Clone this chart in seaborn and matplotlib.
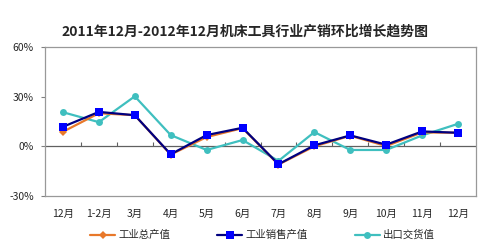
import matplotlib
matplotlib.use("Agg")
import matplotlib.pyplot as plt
import seaborn as sns
import pandas as pd

categories = ["12月", "1-2月", "3月", "4月", "5月", "6月", "7月", "8月", "9月", "10月", "11月", "12月 "]
tick_labels = ["12月", "1-2月", "3月", "4月", "5月", "6月", "7月", "8月", "9月", "10月", "11月", "12月"]
total_output = [8.8, 20.0, 18.8, -5.0, 5.6, 11.0, -11.0, 0.0, 6.4, 0.2, 8.4, 8.2]
sales_output = [11.8, 20.8, 18.8, -4.8, 6.8, 11.2, -10.8, 0.6, 6.6, 1.0, 9.0, 8.2]
export_value = [20.6, 14.6, 30.2, 6.8, -2.2, 3.8, -8.8, 8.6, -2.2, -2.2, 6.6, 13.6]
series_names = ["工业总产值", "工业销售产值", "出口交货值"]
y_ticks = [-30, 0, 30, 60]

sns.set_theme(style="white")
plt.rcParams["font.family"] = ["Noto Sans CJK SC", "DejaVu Sans"]

df = pd.DataFrame({"cat": categories, "total": total_output,
                   "sales": sales_output, "export": export_value})

fig = plt.figure(figsize=(5, 2.5), dpi=100)
ax = fig.add_axes([0.09, 0.216, 0.862, 0.596])

sns.lineplot(data=df, x="cat", y="export", ax=ax, color="#3FBFBF", lw=1.6,
             marker="o", markersize=5, markeredgewidth=0, label=series_names[2], sort=False)
sns.lineplot(data=df, x="cat", y="total", ax=ax, color="#E8782A", lw=1.6,
             marker="D", markersize=4, markeredgewidth=0, label=series_names[0], sort=False)
sns.lineplot(data=df, x="cat", y="sales", ax=ax, color="#000080", lw=1.6,
             marker="s", markersize=6, markerfacecolor="#0000FF", markeredgewidth=0,
             label=series_names[1], sort=False)

ax.set_xlim(-0.5, 11.5)
ax.set_ylim(-30, 60)
ax.set_yticks(y_ticks)
ax.set_yticklabels([f"{v}%" for v in y_ticks], fontsize=7.5)
ax.set_xticks(range(len(categories)))
ax.set_xticklabels(tick_labels, fontsize=7.5)
ax.tick_params(axis="x", length=0, pad=9)
ax.tick_params(axis="y", length=3, width=0.8, color="#808080", left=True, pad=5)
ax.set_xlabel("")
ax.set_ylabel("")

ax.axhline(0, color="#606060", lw=0.9, zorder=1)
ax.vlines([i + 0.5 for i in range(len(categories) - 1)], 0, 2.4, color="#606060", lw=0.8, zorder=1)

for s in ax.spines.values():
    s.set_color("#999999")
    s.set_linewidth(0.9)

fig.suptitle("2011年12月-2012年12月机床工具行业产销环比增长趋势图", x=0.49, y=0.90,
             fontsize=10, fontweight="bold")

h, l = ax.get_legend_handles_labels()
order = [1, 2, 0]
ax.legend([h[i] for i in order], [l[i] for i in order], loc="center",
          bbox_to_anchor=(0.525, 0.06), bbox_transform=fig.transFigure, ncol=3,
          frameon=False, fontsize=7.5, handlelength=2.4, columnspacing=4.5,
          handletextpad=0.3)

fig.savefig("out.png", dpi=100)
